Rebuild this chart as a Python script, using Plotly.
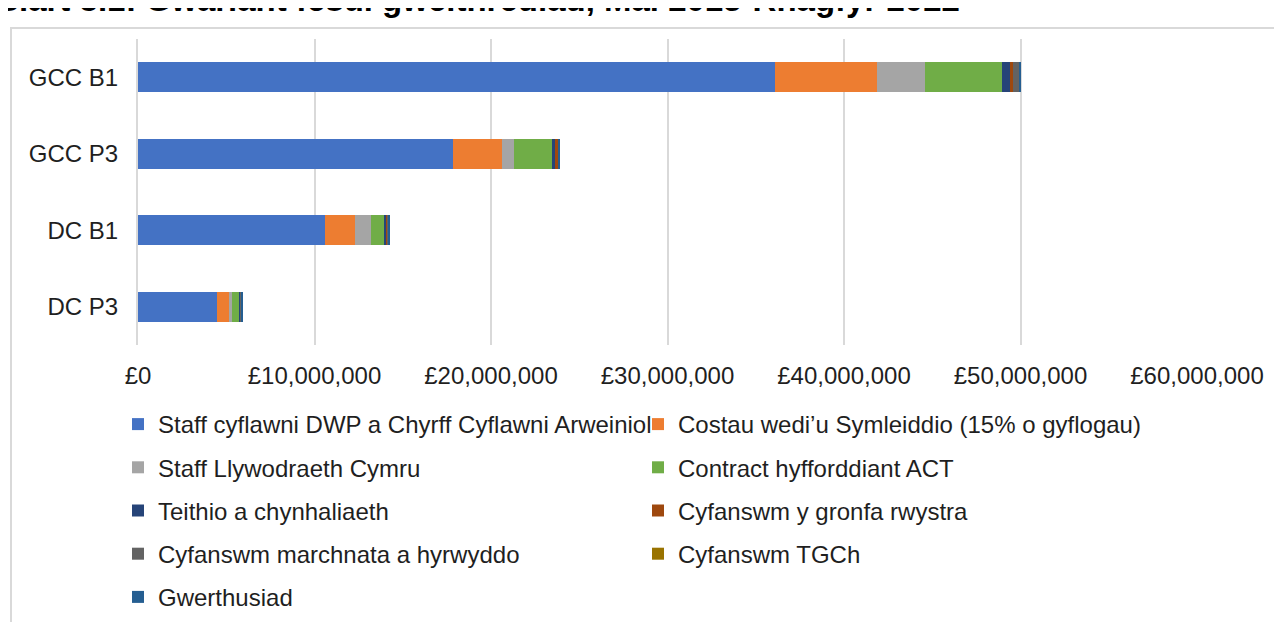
"""Siart 3.1 - gwariant fesul gweithrediad (stacked horizontal bars)."""

import plotly.graph_objects as go

operations = ["GCC B1", "GCC P3", "DC B1", "DC P3"]

staff_dwp = [36_100_000, 17_850_000, 10_620_000, 4_450_000]
simplified_costs = [5_750_000, 2_750_000, 1_660_000, 710_000]
welsh_gov_staff = [2_750_000, 730_000, 940_000, 190_000]
act_contract = [4_370_000, 2_170_000, 720_000, 380_000]
travel = [420_000, 100_000, 130_000, 50_000]
barrier_fund = [200_000, 200_000, 50_000, 30_000]
marketing = [330_000, 30_000, 60_000, 30_000]
ict = [40_000, 20_000, 20_000, 40_000]
evaluation = [50_000, 80_000, 100_000, 20_000]

series_names = [
    "Staff cyflawni DWP a Chyrff Cyflawni Arweiniol",
    "Costau wedi\u2019u Symleiddio (15% o gyflogau)",
    "Staff Llywodraeth Cymru",
    "Contract hyfforddiant ACT",
    "Teithio a chynhaliaeth",
    "Cyfanswm y gronfa rwystra",
    "Cyfanswm marchnata a hyrwyddo",
    "Cyfanswm TGCh",
    "Gwerthusiad",
]
series_values = [
    staff_dwp, simplified_costs, welsh_gov_staff, act_contract, travel,
    barrier_fund, marketing, ict, evaluation,
]
colors = [
    "#4472C4", "#ED7D31", "#A5A5A5", "#70AD47", "#264478",
    "#9E480E", "#636363", "#997300", "#255E91",
]

FONT = "Liberation Sans, Arial, sans-serif"
TEXT = "#1f1f1f"

# the page body has an 8px margin, so page pixel p sits at figure pixel p - 8
OFF = 8
W, H = 1282, 622
L, R, T, B = 130, 93, 31, 285
PW, PH = W - L - R, H - T - B


def px_x(page_x):
    return (page_x - OFF - L) / PW


def px_y(page_y):
    return (H - B - (page_y - OFF)) / PH


fig = go.Figure()
for i, (name, vals, col) in enumerate(zip(series_names, series_values, colors)):
    fig.add_trace(
        go.Bar(
            y=operations,
            x=vals,
            orientation="h",
            name=name,
            marker=dict(color=col, line=dict(width=0)),
            legend="legend" if i % 2 == 0 else "legend2",
            legendgroup=f"g{i}",
        )
    )

legend_common = dict(
    orientation="v",
    traceorder="grouped",
    tracegroupgap=9,
    font=dict(family=FONT, size=24, color=TEXT),
    bgcolor="rgba(0,0,0,0)",
    xanchor="left",
    yanchor="top",
    itemclick=False,
    itemdoubleclick=False,
)

fig.update_layout(
    width=W,
    height=H,
    margin=dict(l=L, r=R, t=T, b=B, autoexpand=False),
    barmode="stack",
    bargap=0.61,
    plot_bgcolor="white",
    paper_bgcolor="white",
    font=dict(family=FONT, size=24, color=TEXT),
    legend=dict(x=px_x(118), y=px_y(402), **legend_common),
    legend2=dict(x=px_x(638), y=px_y(402), **legend_common),
    showlegend=True,
)

fig.update_xaxes(
    range=[0, 60_000_000],
    dtick=10_000_000,
    tickprefix="\u00a3",
    tickformat=",.0f",
    showgrid=True,
    gridcolor="#d9d9d9",
    gridwidth=2,
    zeroline=False,
    showline=False,
    ticks="",
    ticklabelstandoff=14,
    tickfont=dict(family=FONT, size=24, color=TEXT),
)
fig.update_yaxes(
    categoryorder="array",
    categoryarray=operations,
    autorange="reversed",
    showgrid=False,
    showline=True,
    linecolor="#d9d9d9",
    linewidth=2,
    ticks="",
    ticklabelstandoff=13,
    tickfont=dict(family=FONT, size=24, color=TEXT),
)

# chart frame (light grey border, runs off the right and bottom edges)
fig.add_shape(
    type="rect",
    xref="paper",
    yref="paper",
    x0=px_x(11),
    x1=px_x(W + 30),
    y0=px_y(H + 30),
    y1=px_y(28),
    line=dict(color="#d9d9d9", width=2),
    fillcolor="rgba(0,0,0,0)",
    layer="below",
)

# title, mostly cropped at the top edge as in the source image
fig.add_annotation(
    text="<b>Siart 3.1: Gwariant fesul gweithrediad, Mai 2015-Rhagfyr 2022</b>",
    xref="paper",
    yref="paper",
    x=px_x(-5),
    y=px_y(-1),
    xanchor="left",
    yanchor="middle",
    showarrow=False,
    font=dict(family=FONT, size=33, color="#000000"),
)

fig.write_html("out.html")
